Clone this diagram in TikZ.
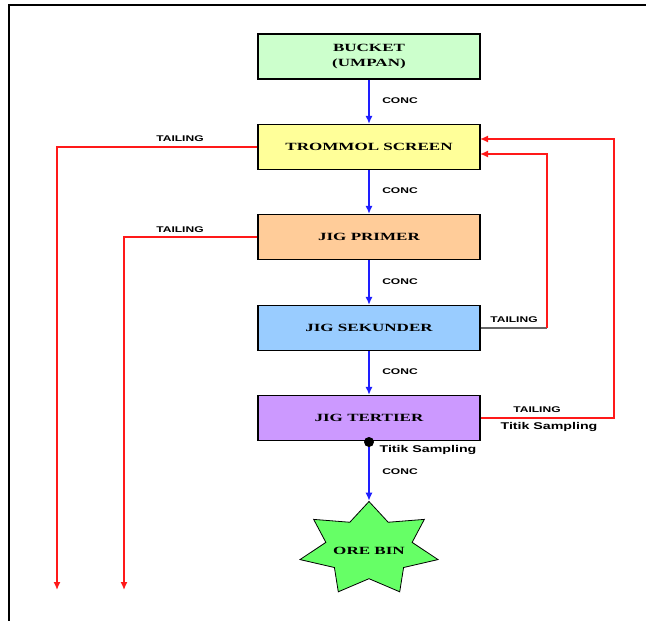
\documentclass[tikz,border=0pt]{standalone}
\usepackage{fontspec}
\usetikzlibrary{shapes.geometric,arrows.meta}
\newfontfamily\boxfont{Liberation Serif Bold}[FakeStretch=1.55]
\newfontfamily\labelfont{Liberation Sans Bold}[FakeStretch=1.45]
\definecolor{feedgreen}{RGB}{204,255,204}
\definecolor{screenyellow}{RGB}{255,255,153}
\definecolor{primerorange}{RGB}{255,204,153}
\definecolor{sekunderblue}{RGB}{153,204,255}
\definecolor{tertierviolet}{RGB}{204,153,255}
\definecolor{bingreen}{RGB}{102,255,102}
\definecolor{concblue}{RGB}{30,30,255}
\definecolor{tailred}{RGB}{255,25,25}
\begin{document}
\begin{tikzpicture}
  [x=1pt,y=-1pt,
   unit/.style={rectangle,draw=black,line width=1.1pt,minimum width=222pt,
     minimum height=45pt,inner sep=0pt,align=center,
     font=\boxfont\fontsize{11}{15}\selectfont},
   conc/.style={concblue,line width=1.5pt,-{Latex[length=8pt,width=7pt]}},
   tail/.style={tailred,line width=1.4pt},
   tailarrow/.style={tail,-{Latex[length=8pt,width=7pt]}},
   flowlabel/.style={inner sep=0pt,font=\labelfont\fontsize{8.3}{10}\selectfont},
   samplelabel/.style={inner sep=0pt,font=\labelfont\fontsize{9.8}{12}\selectfont}]
  \useasboundingbox (0,0) rectangle (646,621);

  % frame
  \draw [line width=2.5pt] (9,621) -- (9,5) -- (646,5);

  % process units
  \node (bucket) at (369,56.5) [unit,fill=feedgreen] {BUCKET\\(UMPAN)};
  \node (trommol) at (369,147) [unit,fill=screenyellow] {TROMMOL SCREEN};
  \node (primer) at (369,237) [unit,fill=primerorange] {JIG PRIMER};
  \node (sekunder) at (369,328) [unit,fill=sekunderblue] {JIG SEKUNDER};
  \node (tertier) at (369,418) [unit,fill=tertierviolet] {JIG TERTIER};

  % ore bin star
  \begin{scope}[shift={(369,549)},xscale=1.49]
    \node (bin) at (0,0) [star,star points=7,star point ratio=1.6,
      minimum size=95pt,inner sep=0pt,fill=bingreen,draw=black,
      line width=0.8pt,transform shape] {};
  \end{scope}
  \node (binlabel) at (369,551) [inner sep=0pt,
    font=\boxfont\fontsize{11}{15}\selectfont] {ORE BIN};

  % free ends and bends
  \coordinate (out1) at (57,590);
  \coordinate (out2) at (124,590);
  \coordinate (bend1) at (547,328);
  \coordinate (in2) at (480,154);
  \coordinate (loop2) at (614,139);
  \coordinate (in1) at (480,139);

  % concentrate
  \draw [conc] (bucket) to (trommol);
  \draw [conc] (trommol) to (primer);
  \draw [conc] (primer) to (sekunder);
  \draw [conc] (sekunder) to (tertier);
  \draw [conc] (tertier) to (bin.north);
  \node (sample) at (369,442) [circle,fill=black,inner sep=0pt,minimum size=10pt] {};

  % tailing
  \draw [tailarrow] (trommol.west) -| (out1);
  \draw [tailarrow] (primer.west) -| (out2);
  \draw [line width=1.3pt,black!60] (sekunder.east) to (bend1);
  \draw [tailarrow] (bend1) |- (in2);
  \draw [tailarrow] (tertier.east) -| (loop2) -- (in1);

  % labels
  \foreach \y in {101,191,282,372,472}
    \node at (400,\y) [flowlabel] {CONC};
  \node (tl1) at (180,139) [flowlabel] {TAILING};
  \node (tl2) at (180,230) [flowlabel] {TAILING};
  \node (tl3) at (514,320) [flowlabel] {TAILING};
  \node (tl4) at (537,410) [flowlabel] {TAILING};
  \node (ts1) at (428,450) [samplelabel] {Titik Sampling};
  \node (ts2) at (549,427) [samplelabel] {Titik Sampling};
\end{tikzpicture}
\end{document}
